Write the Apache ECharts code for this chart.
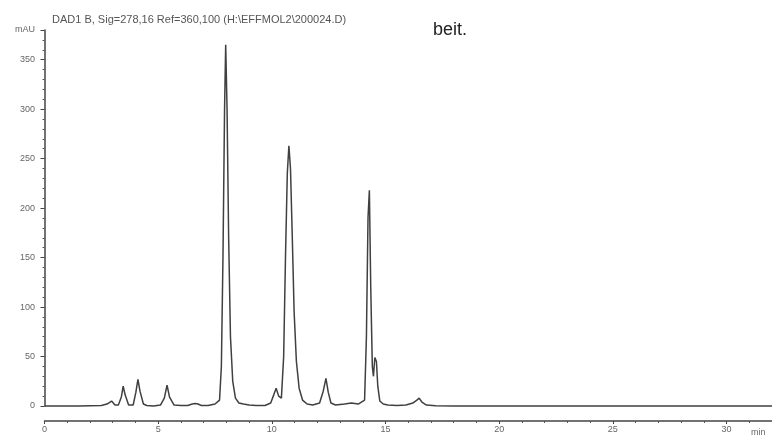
<!DOCTYPE html>
<html>
<head>
<meta charset="utf-8">
<script src="https://cdn.jsdelivr.net/npm/echarts@6/dist/echarts.min.js"></script>
<style>
  html, body { margin: 0; padding: 0; background: #fff; }
  #chart { width: 772px; height: 440px; }
</style>
</head>
<body>
<div id="chart"></div>
<script>
// retention time (min) and absorbance (mAU)
var times = [0, 0.5, 1, 1.5, 2, 2.5, 2.75, 2.95, 3.1, 3.25, 3.38, 3.46, 3.55, 3.7, 3.9, 4.02, 4.11, 4.2, 4.35, 4.5, 4.8, 5.1, 5.27, 5.39, 5.5, 5.7, 6.0, 6.3, 6.5, 6.62, 6.75, 6.9, 7.2, 7.5, 7.7, 7.78, 7.85, 7.92, 7.97, 8.03, 8.1, 8.18, 8.28, 8.4, 8.55, 8.75, 9.0, 9.3, 9.7, 9.95, 10.08, 10.19, 10.3, 10.42, 10.52, 10.6, 10.68, 10.75, 10.82, 10.9, 10.98, 11.08, 11.2, 11.35, 11.55, 11.8, 12.1, 12.26, 12.38, 12.48, 12.6, 12.8, 13.2, 13.5, 13.8, 14.08, 14.16, 14.23, 14.29, 14.35, 14.42, 14.47, 14.53, 14.6, 14.66, 14.75, 14.9, 15.1, 15.5, 15.9, 16.2, 16.38, 16.48, 16.6, 16.8, 17.2, 18, 20, 25, 32];
var mau = [0, 0, 0, 0, 0.3, 0.5, 2, 5, 1, 1, 9, 20, 11, 1, 1, 14, 27, 15, 2, 0.5, 0, 1, 8, 21, 9, 1, 0.5, 0.5, 2, 2.5, 2, 0.5, 0.5, 2, 6, 40, 150, 300, 365, 300, 170, 70, 25, 8, 3, 2, 1, 0.5, 0.5, 3, 11, 18, 10, 8, 50, 150, 235, 263, 240, 170, 95, 45, 18, 6, 2, 1, 3, 15, 28, 14, 3, 1, 2, 3, 2, 6, 70, 190, 218, 120, 40, 30, 49, 45, 20, 5, 2, 1, 0.5, 1, 3, 6, 8, 4, 1, 0.3, 0, 0, 0, 0];
var xTicks = [0, 5, 10, 15, 20, 25, 30];
var yTicks = [0, 50, 100, 150, 200, 250, 300, 350];

var trace = times.map(function (t, i) { return [t, mau[i]]; });

var chart = echarts.init(document.getElementById('chart'));
var option = {
  animation: false,
  title: [{
    text: 'DAD1 B, Sig=278,16 Ref=360,100 (H:\\EFFMOL2\\200024.D)',
    left: 47, top: 9,
    textStyle: { fontSize: 11, fontWeight: 'normal', color: '#555', fontFamily: 'Liberation Sans' }
  }, {
    text: 'beit.',
    left: 428, top: 16,
    textStyle: { fontSize: 18, fontWeight: 'normal', color: '#222', fontFamily: 'Liberation Sans' }
  }],
  graphic: [{
    type: 'text', left: 751, top: 428,
    style: { text: 'min', fontSize: 9, fill: '#666', fontFamily: 'Liberation Sans' }
  }],
  grid: { left: 44.5, right: 0, top: 30, bottom: 34 },
  xAxis: {
    type: 'value', min: 0, max: 32, interval: 5,
    offset: 15,
    axisLine: { onZero: false, lineStyle: { color: '#444', width: 1.5 } },
    axisTick: { show: true, length: 3, lineStyle: { color: '#444' } },
    minorTick: { show: true, splitNumber: 5, length: 2, lineStyle: { color: '#555' } },
    splitLine: { show: false },
    axisLabel: {
      fontSize: 9, color: '#666', margin: 4, fontFamily: 'Liberation Sans',
      showMaxLabel: false,
      formatter: function (v) { return xTicks.indexOf(v) >= 0 ? String(v) : ''; }
    }
  },
  yAxis: {
    type: 'value', min: 0, max: 380, interval: 50,
    offset: 3.5,
    axisLine: { show: true, lineStyle: { color: '#444', width: 1.5 } },
    axisTick: { show: true, length: 4, lineStyle: { color: '#444' } },
    minorTick: { show: true, splitNumber: 5, length: 2, lineStyle: { color: '#555' } },
    splitLine: { show: false },
    axisLabel: {
      fontSize: 9, color: '#666', margin: 6, fontFamily: 'Liberation Sans',
      formatter: function (v) { return v === 380 ? 'mAU' : (yTicks.indexOf(v) >= 0 ? String(v) : ''); }
    }
  },
  series: [{
    type: 'line',
    data: trace,
    showSymbol: false,
    clip: false,
    lineStyle: { color: '#404040', width: 1.5 }
  }]
};
chart.setOption(option);
</script>
</body>
</html>
